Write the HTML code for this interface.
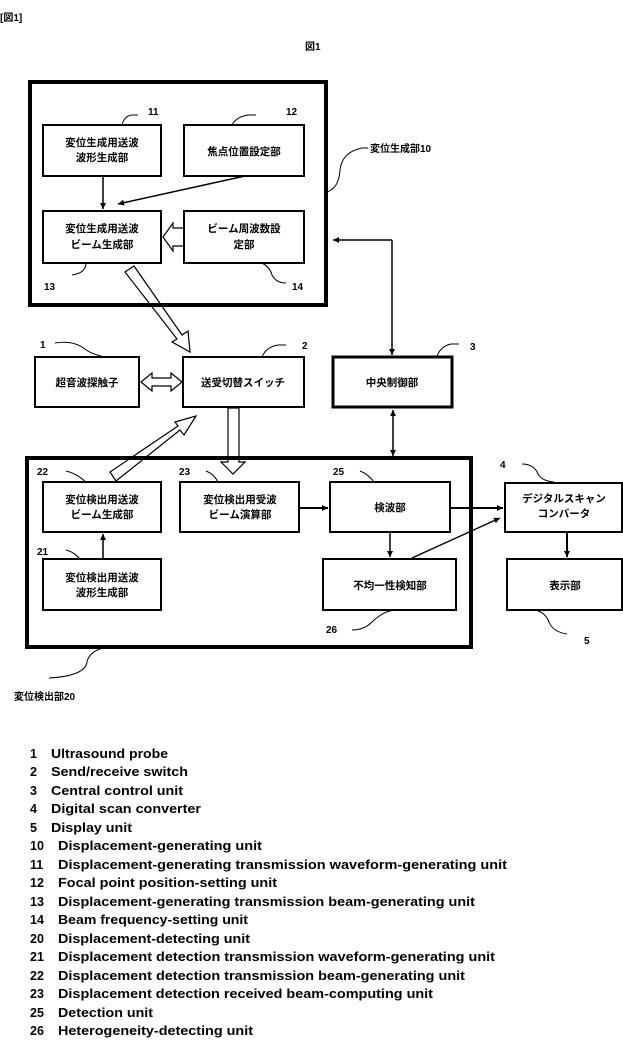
<!DOCTYPE html>
<html><head><meta charset="utf-8"><style>
body{margin:0;background:#fff;}
svg{display:block;}
text{font-family:"Liberation Sans","Noto Sans CJK JP",sans-serif;fill:#000;}
.j{font-size:10.5px;font-weight:bold;text-anchor:middle;}
.n{font-size:10px;font-weight:bold;}
.l{font-size:12.5px;font-weight:bold;}
</style></head><body>
<svg width="623" height="1040" viewBox="0 0 623 1040" xmlns="http://www.w3.org/2000/svg">
<defs><marker id="a" markerWidth="8" markerHeight="8" refX="6" refY="3" orient="auto" markerUnits="userSpaceOnUse"><path d="M0,0 L6,3 L0,6 z" fill="#000"/></marker></defs>
<text x="0" y="21" class="n" font-size="12">[図1]</text>
<text x="305" y="50" class="n" font-size="12">図1</text>
<g fill="none" stroke="#000">
<rect x="30" y="82" width="296" height="223" stroke-width="4"/>
<rect x="43" y="125" width="118" height="51" stroke-width="2"/>
<rect x="184" y="125" width="120" height="51" stroke-width="2"/>
<rect x="43" y="211" width="118" height="52" stroke-width="2"/>
<rect x="184" y="211" width="120" height="52" stroke-width="2"/>
<rect x="35" y="357" width="104" height="50" stroke-width="2"/>
<rect x="183" y="357" width="121" height="50" stroke-width="2"/>
<rect x="333" y="357" width="119" height="50" stroke-width="3"/>
<rect x="27" y="458" width="444" height="189" stroke-width="4"/>
<rect x="43" y="482" width="118" height="50" stroke-width="2"/>
<rect x="43" y="559" width="118" height="51" stroke-width="2"/>
<rect x="180" y="482" width="119" height="50" stroke-width="2"/>
<rect x="330" y="482" width="120" height="50" stroke-width="2"/>
<rect x="323" y="559" width="133" height="51" stroke-width="2"/>
<rect x="505" y="483" width="117" height="49" stroke-width="2"/>
<rect x="507" y="559" width="115" height="51" stroke-width="2"/>
<line x1="103" y1="176" x2="103" y2="209" stroke-width="1.5" marker-end="url(#a)"/>
<line x1="245" y1="176" x2="118" y2="204" stroke-width="1.5" marker-end="url(#a)"/>
<line x1="392" y1="240" x2="392" y2="355" stroke-width="1.5" marker-end="url(#a)"/>
<line x1="392" y1="240" x2="333" y2="240" stroke-width="1.5" marker-end="url(#a)"/>
<line x1="393" y1="420" x2="393" y2="410" stroke-width="1.5" marker-end="url(#a)"/>
<line x1="393" y1="420" x2="393" y2="456" stroke-width="1.5" marker-end="url(#a)"/>
<line x1="103" y1="559" x2="103" y2="534" stroke-width="1.5" marker-end="url(#a)"/>
<line x1="299" y1="508" x2="328" y2="508" stroke-width="2" marker-end="url(#a)"/>
<line x1="450" y1="508" x2="503" y2="508" stroke-width="2" marker-end="url(#a)"/>
<line x1="390" y1="532" x2="390" y2="557" stroke-width="1.5" marker-end="url(#a)"/>
<line x1="412" y1="558" x2="500" y2="518" stroke-width="1.5" marker-end="url(#a)"/>
<line x1="567" y1="532" x2="567" y2="557" stroke-width="2" marker-end="url(#a)"/>
<path d="M184,228 L173,228 L173,223 L163,237 L173,251 L173,246 L184,246" stroke-width="1.2"/>
<path d="M141,382 L152,373 L152,378 L171,378 L171,373 L182,382 L171,391 L171,386 L152,386 L152,391 Z" stroke-width="1.2"/>
<path d="M125,272 L134,266 L182,335 L188,331 L190,352 L172,342 L177,339 Z" stroke-width="1.2"/>
<path d="M110,472 L116,481 L180,430 L184,435 L196,416 L175,422 L178,426 Z" stroke-width="1.2"/>
<path d="M228,408 L239,408 L239,462 L245,462 L233,474 L221,462 L228,462 Z" stroke-width="1.2"/>
<path d="M122,125 q2,-9 10,-10 h6" stroke-width="1"/>
<path d="M232,125 q4,-8 16,-10 h8" stroke-width="1"/>
<path d="M327,192 q12,-4 13,-22 q2,-18 22,-22 h6" stroke-width="1"/>
<path d="M86,263 q0,10 -14,12" stroke-width="1"/>
<path d="M262,263 q8,4 10,12 q4,8 14,8" stroke-width="1"/>
<path d="M55,343 q18,-3 30,6 q6,5 20,8" stroke-width="1"/>
<path d="M262,357 q4,-10 16,-12 h8" stroke-width="1"/>
<path d="M437,356 q4,-10 14,-12 h8" stroke-width="1"/>
<path d="M66,471 q10,2 20,11" stroke-width="1"/>
<path d="M206,471 q8,3 12,11" stroke-width="1"/>
<path d="M360,471 q8,3 14,11" stroke-width="1"/>
<path d="M66,550 q8,2 14,9" stroke-width="1"/>
<path d="M522,464 q12,0 16,10 q4,7 16,8" stroke-width="1"/>
<path d="M103,648 q-14,4 -16,14 q-2,14 -38,16" stroke-width="1"/>
<path d="M352,630 q12,0 20,-8 q10,-10 22,-12" stroke-width="1"/>
<path d="M535,610 q10,2 14,12 q4,10 18,12" stroke-width="1"/>
</g>
<text x="102" y="146" class="j">変位生成用送波</text><text x="102" y="161" class="j">波形生成部</text>
<text x="244" y="155" class="j">焦点位置設定部</text>
<text x="102" y="232" class="j">変位生成用送波</text><text x="102" y="248" class="j">ビーム生成部</text>
<text x="244" y="232" class="j">ビーム周波数設</text><text x="244" y="248" class="j">定部</text>
<text x="87" y="386" class="j">超音波探触子</text>
<text x="243" y="386" class="j">送受切替スイッチ</text>
<text x="392" y="386" class="j">中央制御部</text>
<text x="102" y="503" class="j">変位検出用送波</text><text x="102" y="518" class="j">ビーム生成部</text>
<text x="102" y="581" class="j">変位検出用送波</text><text x="102" y="596" class="j">波形生成部</text>
<text x="240" y="503" class="j">変位検出用受波</text><text x="240" y="518" class="j">ビーム演算部</text>
<text x="390" y="511" class="j">検波部</text>
<text x="390" y="589" class="j">不均一性検知部</text>
<text x="564" y="502" class="j">デジタルスキャン</text><text x="564" y="517" class="j">コンバータ</text>
<text x="565" y="589" class="j">表示部</text>
<text x="148" y="115" class="n">11</text>
<text x="286" y="115" class="n">12</text>
<text x="370" y="152" class="n">変位生成部10</text>
<text x="44" y="290" class="n">13</text>
<text x="292" y="290" class="n">14</text>
<text x="40" y="348" class="n">1</text>
<text x="302" y="349" class="n">2</text>
<text x="470" y="350" class="n">3</text>
<text x="37" y="475" class="n">22</text>
<text x="179" y="475" class="n">23</text>
<text x="333" y="475" class="n">25</text>
<text x="500" y="468" class="n">4</text>
<text x="37" y="555" class="n">21</text>
<text x="326" y="633" class="n">26</text>
<text x="584" y="644" class="n">5</text>
<text x="14" y="700" class="n">変位検出部20</text>
<g class="l">
<text x="30" y="758" class="l">1</text><text x="51" y="758" class="l" textLength="117" lengthAdjust="spacingAndGlyphs">Ultrasound probe</text>
<text x="30" y="776" class="l">2</text><text x="51" y="776" class="l" textLength="137" lengthAdjust="spacingAndGlyphs">Send/receive switch</text>
<text x="30" y="795" class="l">3</text><text x="51" y="795" class="l" textLength="132" lengthAdjust="spacingAndGlyphs">Central control unit</text>
<text x="30" y="813" class="l">4</text><text x="51" y="813" class="l" textLength="150" lengthAdjust="spacingAndGlyphs">Digital scan converter</text>
<text x="30" y="832" class="l">5</text><text x="51" y="832" class="l" textLength="81" lengthAdjust="spacingAndGlyphs">Display unit</text>
<text x="30" y="850" class="l">10</text><text x="58" y="850" class="l" textLength="204" lengthAdjust="spacingAndGlyphs">Displacement-generating unit</text>
<text x="30" y="869" class="l">11</text><text x="58" y="869" class="l" textLength="449" lengthAdjust="spacingAndGlyphs">Displacement-generating transmission waveform-generating unit</text>
<text x="30" y="887" class="l">12</text><text x="58" y="887" class="l" textLength="219" lengthAdjust="spacingAndGlyphs">Focal point position-setting unit</text>
<text x="30" y="906" class="l">13</text><text x="58" y="906" class="l" textLength="417" lengthAdjust="spacingAndGlyphs">Displacement-generating transmission beam-generating unit</text>
<text x="30" y="924" class="l">14</text><text x="58" y="924" class="l" textLength="190" lengthAdjust="spacingAndGlyphs">Beam frequency-setting unit</text>
<text x="30" y="943" class="l">20</text><text x="58" y="943" class="l" textLength="192" lengthAdjust="spacingAndGlyphs">Displacement-detecting unit</text>
<text x="30" y="961" class="l">21</text><text x="58" y="961" class="l" textLength="437" lengthAdjust="spacingAndGlyphs">Displacement detection transmission waveform-generating unit</text>
<text x="30" y="980" class="l">22</text><text x="58" y="980" class="l" textLength="407" lengthAdjust="spacingAndGlyphs">Displacement detection transmission beam-generating unit</text>
<text x="30" y="998" class="l">23</text><text x="58" y="998" class="l" textLength="375" lengthAdjust="spacingAndGlyphs">Displacement detection received beam-computing unit</text>
<text x="30" y="1017" class="l">25</text><text x="58" y="1017" class="l" textLength="95" lengthAdjust="spacingAndGlyphs">Detection unit</text>
<text x="30" y="1035" class="l">26</text><text x="58" y="1035" class="l" textLength="195" lengthAdjust="spacingAndGlyphs">Heterogeneity-detecting unit</text>
</g>
</svg>
</body></html>
